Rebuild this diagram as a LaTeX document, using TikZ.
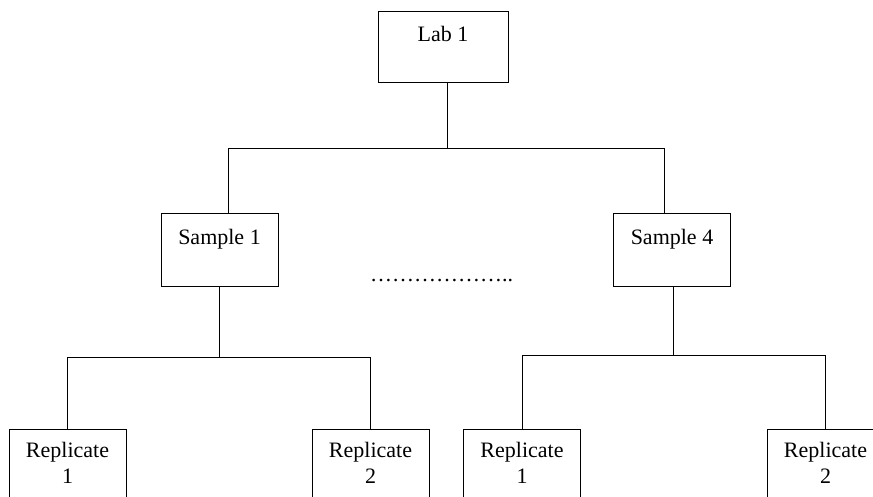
\documentclass[tikz,border=0pt]{standalone}
\usepackage{fontspec}
\setmainfont{Liberation Serif}
\usepackage{tikz}

\begin{document}
\begin{tikzpicture}[
  x=1pt, y=-1pt,
  font=\fontsize{22}{26}\selectfont,
  line/.style={line width=1pt, draw=black},
  box/.style={draw=black, line width=1pt, inner sep=0pt, minimum width=117pt, text height=30pt, text depth=42pt, align=center},
  repbox/.style={box, text height=54pt, text depth=18pt}
]
\useasboundingbox (0,0) rectangle (873,497);
\clip (0,0) rectangle (873,497);

\node[box, minimum width=130pt, text depth=41pt] (lab) at (443,47.5) {Lab 1};
\node[box] (s1) at (219.5,250) {Sample 1};
\node[box] (s4) at (672,250) {Sample 4};
\node[inner sep=0pt, anchor=base west] (dots) at (370,281) {………………..};

\node[repbox] (r11) at (67.5,465) {Replicate\\1};
\node[repbox] (r12) at (370.5,465) {Replicate\\2};
\node[repbox] (r41) at (522,465) {Replicate\\1};
\node[repbox] (r42) at (825.5,465) {Replicate\\2};

% lab to samples
\draw[line] ([xshift=4pt]lab.south) -- ++(0,65) coordinate (labbar);
\draw[line] ([xshift=9pt]s1.north) |- (labbar) -| ([xshift=-7.5pt]s4.north);

% samples to replicates
\draw[line] (s1.south) -- ++(0,71) coordinate (s1bar);
\draw[line] (r11.north) |- (s1bar) -| (r12.north);
\draw[line] ([xshift=1pt]s4.south) -- ++(0,69) coordinate (s4bar);
\draw[line] (r41.north) |- (s4bar) -| (r42.north);
\end{tikzpicture}
\end{document}
